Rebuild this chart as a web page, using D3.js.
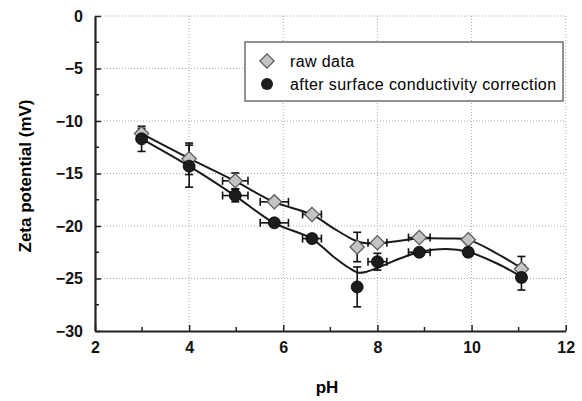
<!DOCTYPE html>
<html>
<head>
<meta charset="utf-8">
<script src="https://cdn.jsdelivr.net/npm/d3@7/dist/d3.min.js"></script>
<style>
  body { margin: 0; background: #fff; }
  svg { display: block; font-family: "Liberation Sans", Arial, sans-serif; }
  .tick-label { font-size: 16px; font-weight: bold; }
</style>
</head>
<body>
<svg id="chart" width="582" height="401"></svg>
<script>
// measured points
var pH = [2.99, 4.0, 4.98, 5.81, 6.61, 7.57, 8.0, 8.89, 9.93, 11.06];
var rawZeta = [-11.2, -13.6, -15.7, -17.7, -18.9, -22.0, -21.6, -21.1, -21.3, -24.1];
var rawErrY = [0.5, 1.5, 0.75, 0.3, 0.3, 1.4, 0.3, 0.3, 0.3, 1.2];
var corrZeta = [-11.7, -14.3, -17.1, -19.7, -21.2, -25.8, -23.4, -22.5, -22.5, -24.9];
var corrErrY = [1.2, 2.0, 0.6, 0.3, 0.3, 1.9, 0.8, 0.3, 0.4, 1.2];
var errX = [0, 0, 0.27, 0.3, 0.2, 0, 0.2, 0.23, 0, 0];

// smooth curves
var fitPH = [2.99, 4.0, 4.97, 5.80, 6.60, 7.06, 7.40, 7.60, 7.77, 8.05, 8.48, 8.88, 9.47, 9.92, 10.53, 11.05];
var fitRaw = [-11.2, -13.55, -15.7, -17.7, -18.9, -20.2, -21.1, -21.5, -21.65, -21.65, -21.4, -21.2, -21.2, -21.3, -22.6, -24.0];
var fitCorr = [-11.7, -14.3, -17.1, -19.7, -21.2, -22.9, -24.0, -24.45, -24.35, -23.9, -23.1, -22.5, -22.2, -22.45, -23.55, -24.8];

var xTicks = [2, 4, 6, 8, 10, 12];
var yTicks = [0, -5, -10, -15, -20, -25, -30];

var svg = d3.select("#chart");
var x = d3.scaleLinear().domain([2, 12]).range([95, 565.7]);
var y = d3.scaleLinear().domain([0, -30]).range([16, 331]);

// grid
var grid = svg.append("g").attr("stroke", "#aaa").attr("stroke-width", 1).attr("stroke-dasharray", "1,2");
grid.selectAll(".gy").data(yTicks.slice(0, -1)).enter().append("line")
    .attr("x1", x(2)).attr("x2", x(12))
    .attr("y1", function(d) { return y(d); }).attr("y2", function(d) { return y(d); });
grid.selectAll(".gx").data(xTicks.slice(1)).enter().append("line")
    .attr("y1", y(0)).attr("y2", y(-30))
    .attr("x1", function(d) { return x(d); }).attr("x2", function(d) { return x(d); });

// axes
var xAxis = d3.axisBottom(x).tickValues(xTicks).tickSizeInner(-6).tickSizeOuter(0).tickPadding(14)
    .tickFormat(function(d) { return d; });
var yAxis = d3.axisLeft(y).tickValues(yTicks).tickSizeInner(-6).tickSizeOuter(0).tickPadding(12)
    .tickFormat(function(d) { return d < 0 ? "\u2212" + Math.abs(d) : d; });

var gx = svg.append("g").attr("transform", "translate(0," + y(-30) + ")").call(xAxis);
var gy = svg.append("g").attr("transform", "translate(" + x(2) + ",0)").call(yAxis);
[gx, gy].forEach(function(g) {
    g.select(".domain").attr("stroke", "#222").attr("stroke-width", 2.2);
    g.selectAll(".tick line").attr("stroke", "#222").attr("stroke-width", 1.5);
    g.selectAll(".tick text").attr("class", "tick-label").attr("fill", "#111");
});
gx.selectAll(".tick text").attr("dy", "0.5em");

// minor ticks
svg.append("g").selectAll("line").data([3, 5, 7, 9, 11]).enter().append("line")
    .attr("x1", function(d) { return x(d); }).attr("x2", function(d) { return x(d); })
    .attr("y1", y(-30)).attr("y2", y(-30) - 4).attr("stroke", "#222").attr("stroke-width", 1.5);
svg.append("g").selectAll("line").data([-2.5, -7.5, -12.5, -17.5, -22.5, -27.5]).enter().append("line")
    .attr("y1", function(d) { return y(d); }).attr("y2", function(d) { return y(d); })
    .attr("x1", x(2)).attr("x2", x(2) + 4).attr("stroke", "#222").attr("stroke-width", 1.5);

// axis titles
svg.append("text").attr("x", 327).attr("y", 393).attr("text-anchor", "middle")
    .style("font-size", "17px").style("font-weight", "bold").text("pH");
svg.append("text").attr("transform", "translate(31,176) rotate(-90)").attr("text-anchor", "middle")
    .style("font-size", "17px").style("font-weight", "bold").text("Zeta potential (mV)");

// curves
var line = d3.line().curve(d3.curveCatmullRom.alpha(0.5));
function curvePts(vals) { return fitPH.map(function(p, i) { return [x(p), y(vals[i])]; }); }
svg.append("path").attr("d", line(curvePts(fitRaw))).attr("fill", "none").attr("stroke", "#1a1a1a").attr("stroke-width", 2);
svg.append("path").attr("d", line(curvePts(fitCorr))).attr("fill", "none").attr("stroke", "#1a1a1a").attr("stroke-width", 2);

// error bars
function errorBars(vals, errs) {
    var g = svg.append("g").attr("stroke", "#111").attr("stroke-width", 1.6);
    pH.forEach(function(p, i) {
        var cx = x(p), cy = y(vals[i]);
        if (errs[i] > 0.35) {
            var y1 = y(vals[i] + errs[i]), y2 = y(vals[i] - errs[i]);
            g.append("line").attr("x1", cx).attr("x2", cx).attr("y1", y1).attr("y2", y2);
            g.append("line").attr("x1", cx - 4).attr("x2", cx + 4).attr("y1", y1).attr("y2", y1);
            g.append("line").attr("x1", cx - 4).attr("x2", cx + 4).attr("y1", y2).attr("y2", y2);
        }
        if (errX[i] > 0) {
            var x1 = x(p - errX[i]), x2 = x(p + errX[i]);
            g.append("line").attr("x1", x1).attr("x2", x2).attr("y1", cy).attr("y2", cy);
            g.append("line").attr("x1", x1).attr("x2", x1).attr("y1", cy - 4).attr("y2", cy + 4);
            g.append("line").attr("x1", x2).attr("x2", x2).attr("y1", cy - 4).attr("y2", cy + 4);
        }
    });
}
errorBars(rawZeta, rawErrY);
errorBars(corrZeta, corrErrY);

// markers
var diamond = d3.symbol().type(d3.symbolDiamond2).size(130);
svg.append("g").selectAll("path").data(pH).enter().append("path")
    .attr("d", diamond)
    .attr("transform", function(d, i) { return "translate(" + x(d) + "," + y(rawZeta[i]) + ")"; })
    .attr("fill", "#c4c4c4").attr("stroke", "#555").attr("stroke-width", 1.2);
svg.append("g").selectAll("circle").data(pH).enter().append("circle")
    .attr("cx", function(d) { return x(d); })
    .attr("cy", function(d, i) { return y(corrZeta[i]); })
    .attr("r", 6).attr("fill", "#1c1c1c").attr("stroke", "#000").attr("stroke-width", 0.8);

// legend
var lg = svg.append("g");
lg.append("rect").attr("x", 245).attr("y", 42).attr("width", 318).attr("height", 59)
    .attr("fill", "#fff").attr("stroke", "#777").attr("stroke-width", 1.6);
lg.append("path").attr("d", diamond).attr("transform", "translate(267,61)")
    .attr("fill", "#c4c4c4").attr("stroke", "#555").attr("stroke-width", 1.2);
lg.append("circle").attr("cx", 267).attr("cy", 84).attr("r", 6).attr("fill", "#1c1c1c");
lg.append("text").attr("x", 290).attr("y", 67).style("font-size", "16px").style("letter-spacing", "0.4px").text("raw data");
lg.append("text").attr("x", 290).attr("y", 90).style("font-size", "16px").style("letter-spacing", "0.4px").text("after surface conductivity correction");
</script>
</body>
</html>
